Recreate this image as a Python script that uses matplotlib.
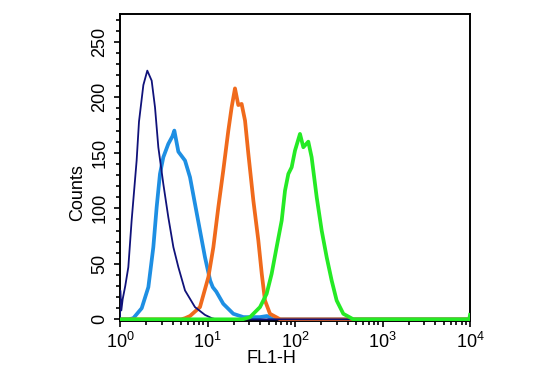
import matplotlib
matplotlib.use("Agg")
import matplotlib.pyplot as plt
from matplotlib.ticker import LogLocator, MultipleLocator, LogFormatterSciNotation, NullFormatter

plt.rcParams['font.family'] = ['Liberation Sans', 'DejaVu Sans']
plt.rcParams['mathtext.default'] = 'regular'

# FL1-H channel values and counts
navy_x = [1.0, 1.007, 1.035, 1.072, 1.148, 1.245, 1.358, 1.549, 1.648, 1.849, 2.051, 2.301,
          2.512, 2.742, 3.126, 3.565, 4.074, 4.645, 5.534, 7.194, 9.354, 11.22, 12.59, 10000]
navy_y = [0, 26, 8, 18, 30, 47, 89, 143, 178, 211, 224, 215,
          191, 155, 122, 92, 65, 47, 26, 11, 4, 1, 0, 0]

blue_x = [1.0, 1.259, 1.419, 1.770, 2.109, 2.404, 2.624, 2.864, 3.126, 3.565, 3.981, 4.178,
          4.645, 5.534, 6.310, 7.194, 8.204, 9.354, 10.72, 11.48, 12.59, 15.14, 19.72, 25.70,
          39.81, 47.86, 56.23, 10000]
blue_y = [0, 0, 1, 10, 29, 65, 101, 131, 146, 158, 165, 170,
          151, 143, 128, 104, 80, 56, 35, 29, 25, 14, 5, 2,
          2, 3, 0, 0]

orange_x = [1.0, 5.012, 5.534, 6.310, 8.204, 10.23, 11.67, 13.30, 15.14, 17.30, 18.88, 20.61,
            22.49, 24.55, 26.85, 29.31, 33.42, 38.11, 41.69, 45.39, 51.76, 67.61, 10000]
orange_y = [0, 0, 1, 3, 11, 38, 65, 101, 134, 170, 191, 208,
            193, 194, 179, 149, 107, 71, 41, 17, 5, 0, 0]

green_x = [1.0, 25.12, 30.62, 39.81, 47.42, 54.08, 61.66, 70.47, 76.91, 83.95, 91.62, 100.0,
           114.0, 124.5, 141.9, 154.9, 177.0, 201.8, 230.1, 262.4, 299.2, 356.5, 464.5, 9800, 10000]
green_y = [0, 0, 2, 11, 23, 41, 65, 89, 116, 131, 137, 152,
           167, 155, 160, 146, 110, 80, 56, 35, 17, 5, 0, 0, 4]

fig = plt.figure(figsize=(5.35, 3.73), dpi=100)
ax = fig.add_axes([120/535, 1-321/373, 350/535, 307/373])

ax.plot(blue_x, blue_y, color='#1e8fe3', lw=2.7, zorder=2)
ax.plot(orange_x, orange_y, color='#f06a1c', lw=2.7, zorder=3)
ax.plot(navy_x, navy_y, color='#10127a', lw=1.3, zorder=4)
ax.plot(green_x, green_y, color='#25ea25', lw=2.7, zorder=5)

ax.set_xscale('log')
ax.set_xlim(1, 10000)
ax.set_ylim(-1.5, 275)

ax.xaxis.set_major_locator(LogLocator(base=10, numticks=10))
ax.xaxis.set_minor_locator(LogLocator(base=10, subs=range(2, 10), numticks=10))
ax.xaxis.set_major_formatter(LogFormatterSciNotation())
ax.xaxis.set_minor_formatter(NullFormatter())
ax.yaxis.set_major_locator(MultipleLocator(50))
ax.yaxis.set_minor_locator(MultipleLocator(10))

for s in ax.spines.values():
    s.set_linewidth(1.4)

ax.tick_params(axis='x', which='major', direction='out', length=4.5, width=1.2,
               labelsize=13, pad=3.5)
ax.tick_params(axis='y', which='major', direction='out', length=4.5, width=1.2,
               labelsize=13, pad=4)
ax.tick_params(axis='both', which='minor', direction='out', length=2.8, width=1.2)
for lab in ax.get_yticklabels():
    lab.set_rotation(90)
    lab.set_va('center')

ax.set_ylabel('Counts', fontsize=13)
ax.set_xlabel('FL1-H', fontsize=13)
ax.yaxis.set_label_coords(-0.097, 0.417)
ax.xaxis.set_label_coords(0.434, -0.095)

fig.savefig('out.png', dpi=100)
